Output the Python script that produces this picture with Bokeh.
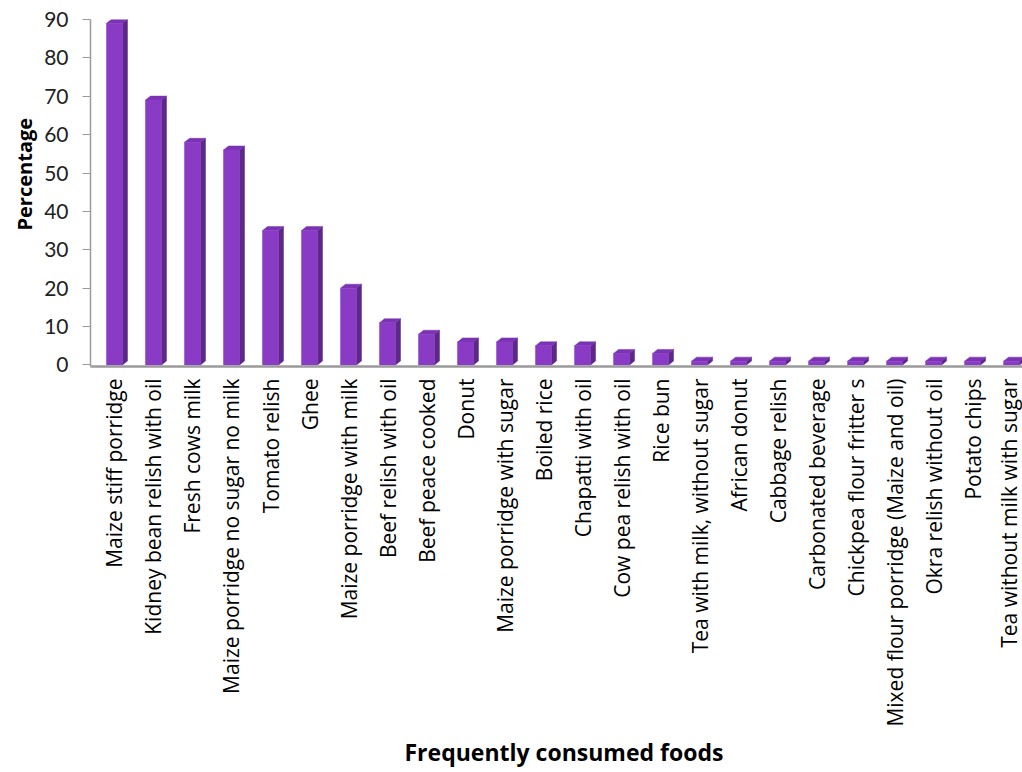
import math
from bokeh.plotting import figure
from bokeh.models import Range1d, FixedTicker, Title
from bokeh.embed import file_html
from bokeh.resources import INLINE

foods = [
    "Maize stiff porridge",
    "Kidney bean relish with oil",
    "Fresh cows milk",
    "Maize porridge no sugar no milk",
    "Tomato relish",
    "Ghee",
    "Maize porridge with milk",
    "Beef relish with oil",
    "Beef peace cooked",
    "Donut",
    "Maize porridge with sugar",
    "Boiled rice",
    "Chapatti with oil",
    "Cow pea relish with oil",
    "Rice bun",
    "Tea with milk, without sugar",
    "African donut",
    "Cabbage relish",
    "Carbonated beverage",
    "Chickpea flour fritter s",
    "Mixed flour porridge (Maize and oil)",
    "Okra relish without oil",
    "Potato chips",
    "Tea without milk with sugar",
]
percentages = [89, 69, 58, 56, 35, 35, 20, 11, 8, 6, 6, 5, 5, 3, 3,
               1, 1, 1, 1, 1, 1, 1, 1, 1]
y_ticks = [0, 10, 20, 30, 40, 50, 60, 70, 80, 90]

FONT = "Lato"
LABEL_FONT = "Open Sans"
W, H = 1022, 772
LEFT, TOP, BOTTOM = 90, 19, 406
x_start, x_end = -0.615, 23.28
y_start, y_end = -0.4, 90

p = figure(width=W, height=H, output_backend="svg", toolbar_location=None,
           x_range=Range1d(x_start, x_end), y_range=Range1d(y_start, y_end),
           min_border_left=LEFT, min_border_right=0, min_border_top=TOP,
           min_border_bottom=BOTTOM)
p.outline_line_color = None
p.grid.visible = False
p.background_fill_color = "white"
p.border_fill_color = "white"

# pixel -> data conversions for the 3D depth of each bar
frame_w = W - LEFT
frame_h = H - TOP - BOTTOM
px_x = (x_end - x_start) / frame_w
px_y = (y_end - y_start) / frame_h
bw = 16 * px_x
dx = 5 * px_x
dy = 4 * px_y

idx = list(range(len(foods)))
lefts = [i - bw / 2 for i in idx]
rights = [i + bw / 2 for i in idx]

side_xs, side_ys, top_xs, top_ys = [], [], [], []
for i, v in zip(idx, percentages):
    r = i + bw / 2
    l = i - bw / 2
    side_xs.append([r, r + dx, r + dx, r])
    side_ys.append([0, dy, v + dy, v])
    top_xs.append([l, l + dx, r + dx, r])
    top_ys.append([v, v + dy, v + dy, v])

p.patches(side_xs, side_ys, fill_color="#5d2887", line_color="#5d2887", line_width=0.5)
p.patches(top_xs, top_ys, fill_color="#7a33b3", line_color="#7a33b3", line_width=0.5)
p.quad(left=lefts, right=rights, bottom=0, top=percentages,
       fill_color="#8a3bc6", line_color="#8a3bc6", line_width=0.5)

# y axis
ya = p.yaxis[0]
ya.ticker = FixedTicker(ticks=y_ticks)
ya.minor_tick_line_color = None
ya.axis_line_color = "#9a9a9a"
ya.axis_line_width = 1.5
ya.major_tick_line_color = "#9a9a9a"
ya.major_tick_out = 8
ya.major_tick_in = 0
ya.major_label_standoff = 14
ya.major_label_text_font = FONT
ya.major_label_text_font_size = "21px"
ya.major_label_text_color = "#222222"

ytitle = Title(text="Percentage", align="left", offset=136,
               text_font=LABEL_FONT, text_font_size="20px", text_font_style="bold",
               text_color="black", standoff=8)
p.add_layout(ytitle, "left")

# x axis
xa = p.xaxis[0]
xa.ticker = FixedTicker(ticks=idx)
xa.major_label_overrides = {i: f for i, f in zip(idx, foods)}
xa.major_label_orientation = math.pi / 2
xa.minor_tick_line_color = None
xa.major_tick_line_color = None
xa.major_tick_out = 0
xa.major_tick_in = 0
xa.axis_line_color = "#9a9a9a"
xa.axis_line_width = 2.5
xa.major_label_standoff = 12
xa.major_label_text_font = LABEL_FONT
xa.major_label_text_font_size = "21px"
xa.major_label_text_color = "black"

xtitle = Title(text="Frequently  consumed foods", align="left", offset=314,
               text_font=LABEL_FONT, text_font_size="23px", text_font_style="bold",
               text_color="black", standoff=8)
p.add_layout(xtitle, "below")

open("out.html", "w").write(file_html(p, INLINE))
